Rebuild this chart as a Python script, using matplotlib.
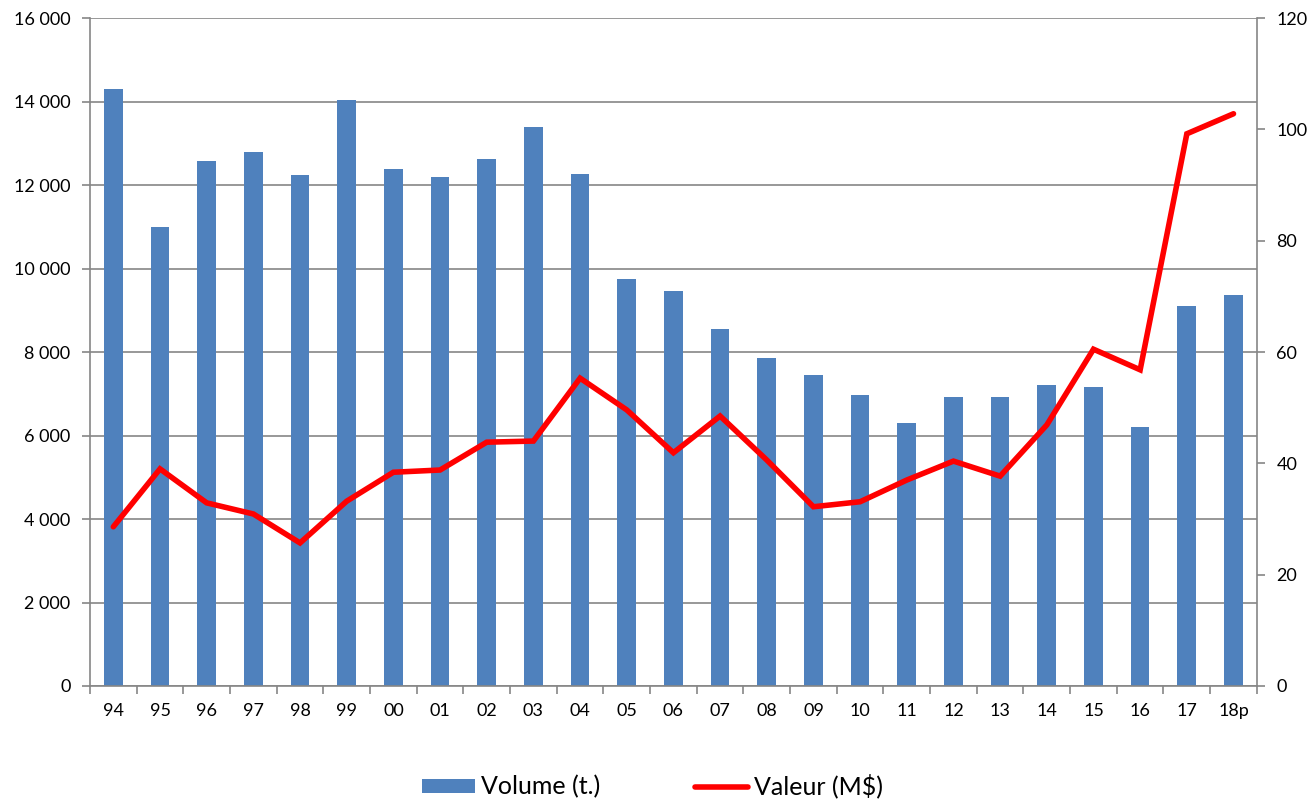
import matplotlib
matplotlib.use("Agg")
import matplotlib.pyplot as plt
from matplotlib.patches import Patch
from matplotlib.lines import Line2D
import numpy as np

plt.rcParams['font.family'] = ['Lato', 'DejaVu Sans']

years = ["94", "95", "96", "97", "98", "99", "00", "01", "02", "03", "04", "05",
         "06", "07", "08", "09", "10", "11", "12", "13", "14", "15", "16", "17", "18p"]
volume = [14290, 11000, 12580, 12780, 12240, 14040, 12380, 12200, 12620, 13400, 12260, 9750,
          9470, 8540, 7860, 7460, 6960, 6290, 6930, 6930, 7210, 7170, 6200, 9110, 9360]
valeur = [28.6, 39.0, 32.9, 30.9, 25.7, 33.2, 38.4, 38.8, 43.8, 44.0, 55.3, 49.6,
          41.9, 48.5, 40.6, 32.2, 33.1, 37.0, 40.4, 37.7, 46.9, 60.5, 56.8, 99.2, 102.8]
left_ticks = [0, 2000, 4000, 6000, 8000, 10000, 12000, 14000, 16000]
left_labels = ["0", "2 000", "4 000", "6 000", "8 000", "10 000", "12 000", "14 000", "16 000"]
right_ticks = [0, 20, 40, 60, 80, 100, 120]

bar_color = "#4F81BD"
line_color = "#FF0000"
axis_color = "#868686"

fig = plt.figure(figsize=(13.14, 8.0), dpi=100)
ax = fig.add_axes([0.0685, 0.1425, 0.888, 0.835])
x = np.arange(len(years))
ax.bar(x, volume, width=0.4, color=bar_color, zorder=2)
ax.set_xlim(-0.5, len(years) - 0.5)
ax.set_ylim(0, 16000)
ax.set_yticks(left_ticks)
ax.set_yticklabels(left_labels)
ax.yaxis.grid(True, color=axis_color, linewidth=1.2, zorder=0)
ax.set_axisbelow(True)
ax.set_xticks(x)
ax.set_xticklabels(years)
ax.set_xticks(np.arange(-0.5, len(years), 1), minor=True)
ax.tick_params(axis='x', which='major', length=0, pad=12, labelsize=13)
ax.tick_params(axis='x', which='minor', length=6, width=1.2, color=axis_color, direction='out')
ax.tick_params(axis='y', length=6, width=1.2, color=axis_color, direction='out', labelsize=13, pad=8)
for s in ['top', 'right']:
    ax.spines[s].set_visible(False)
for s in ['left', 'bottom']:
    ax.spines[s].set_color(axis_color)
    ax.spines[s].set_linewidth(1.2)

ax2 = ax.twinx()
ax2.plot(x, valeur, color=line_color, linewidth=4, solid_joinstyle='miter', solid_capstyle='round', zorder=3)
ax2.set_ylim(0, 120)
ax2.set_yticks(right_ticks)
ax2.tick_params(axis='y', length=6, width=1.2, color=axis_color, direction='out', labelsize=13, pad=8)
for s in ['top', 'left', 'bottom']:
    ax2.spines[s].set_visible(False)
ax2.spines['right'].set_color(axis_color)
ax2.spines['right'].set_linewidth(1.2)

handles = [Patch(facecolor=bar_color, edgecolor='none'),
           Line2D([0], [0], color=line_color, linewidth=4, solid_capstyle='round')]
fig.legend(handles, ["Volume (t.)", "Valeur (M$)"], loc='center', bbox_to_anchor=(0.4966, 0.017),
           ncol=2, frameon=False, fontsize=18, handlelength=2.1, handleheight=0.5,
           columnspacing=3.8, handletextpad=0.25)

fig.savefig("out.png", dpi=100)
